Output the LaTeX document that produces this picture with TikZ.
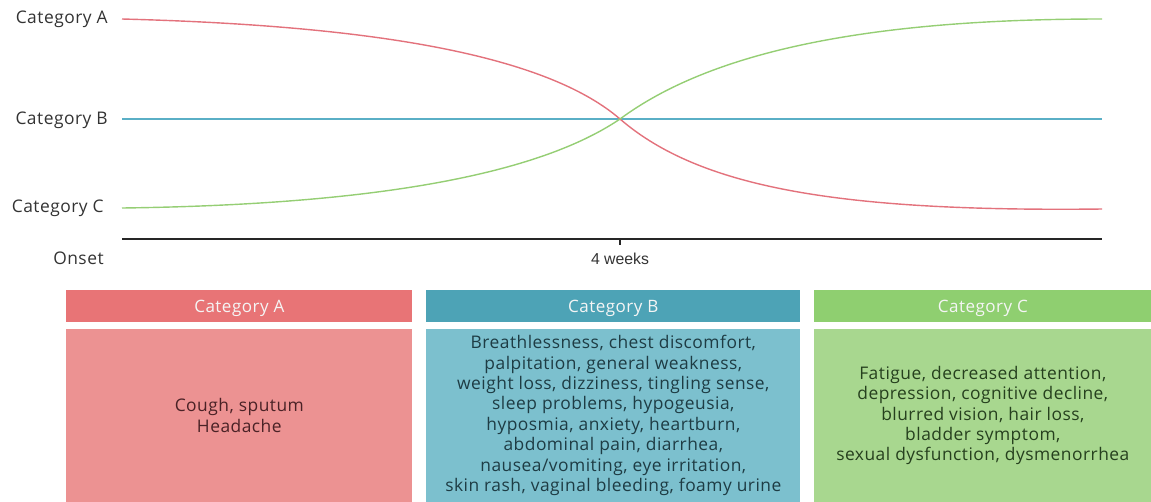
\documentclass[tikz,border=0pt]{standalone}
\usepackage{fontspec}
\setmainfont{Open Sans}[LetterSpace=2.8]
\newfontfamily\tickfont{Liberation Sans}
\usepackage{tikz}
\usetikzlibrary{positioning}
\definecolor{lineA}{HTML}{E3727C}
\definecolor{lineB}{HTML}{5AAFC6}
\definecolor{lineC}{HTML}{95CE74}
\definecolor{hdrA}{HTML}{E87476}
\definecolor{hdrB}{HTML}{4DA3B6}
\definecolor{hdrC}{HTML}{8FCF70}
\definecolor{bodyA}{HTML}{EC9292}
\definecolor{bodyB}{HTML}{7CC0CE}
\definecolor{bodyC}{HTML}{A8D78F}
\definecolor{txtA}{HTML}{4A2226}
\definecolor{txtB}{HTML}{1E3C44}
\definecolor{txtC}{HTML}{26401E}
\definecolor{lbl}{HTML}{333333}
\newcommand\bodyfont{\fontsize{9.9}{11.6}\selectfont\setlength{\lineskiplimit}{-20pt}}
\tikzset{
  catlabel/.style={text=lbl, font=\fontsize{9.9}{10}\selectfont, inner sep=0pt},
  hdr/.style={minimum height=0.64cm, inner sep=0pt, text depth=0pt, text=white!96!black, font=\fontsize{9.7}{10}\selectfont},
  bodybox/.style={minimum height=3.46cm, inner sep=0pt, align=center, font=\bodyfont},
  curve/.style={line width=0.8pt}
}
\begin{document}
\begin{tikzpicture}[x=0.02cm,y=-0.02cm]
\useasboundingbox (0,0) rectangle (1151,501);
\node[catlabel, anchor=base east] (la) at (108,23.5) {Category A};
\node[catlabel, anchor=base east] (lb) at (108,124) {Category B};
\node[catlabel, anchor=base east] (lc) at (104,212) {Category C};
\node[catlabel, anchor=base east] (onset) at (104,264) {Onset};
\coordinate (a0) at (122,19);
\coordinate (a1) at (1102,209);
\coordinate (b0) at (122,119);
\coordinate (b1) at (1102,119);
\coordinate (c0) at (122,208);
\coordinate (c1) at (1102,19);
\coordinate (mid) at (620,119);
\coordinate (ax0) at (122,239);
\coordinate (ax1) at (1102,239);
\coordinate (tick) at (620,239);
\draw[curve, lineB] (b0) -- (b1);
\draw[curve, lineA] (a0) .. controls (350,25) and (540,50) .. (mid) .. controls (700,188) and (840,212) .. (a1);
\draw[curve, lineC] (c0) .. controls (350,205) and (530,180) .. (mid) .. controls (700,60) and (840,19) .. (c1);
\draw[black!85, line width=0.6pt] (ax0) -- (ax1);
\draw[black!85, line width=0.6pt] (tick) -- ++(0,6);
\node[anchor=base, inner sep=0pt, text=lbl, font=\tickfont\fontsize{9}{10}\selectfont] (wk) at (620,264) {4 weeks};
\node[hdr, fill=hdrA, minimum width=6.92cm, anchor=north west] (ha) at (66,290) {Category A};
\node[hdr, fill=hdrB, minimum width=7.48cm, anchor=north west] (hb) at (426,290) {Category B};
\node[hdr, fill=hdrC, minimum width=6.74cm, anchor=north west] (hc) at (814,290) {Category C};
\node[bodybox, fill=bodyA, text=txtA, minimum width=6.92cm, below=0.12cm of ha] (ba) {Cough, sputum\\Headache};
\node[bodybox, fill=bodyB, text=txtB, minimum width=7.48cm, below=0.12cm of hb] (bb) {Breathlessness, chest discomfort,\\palpitation, general weakness,\\weight loss, dizziness, tingling sense,\\sleep problems, hypogeusia,\\hyposmia, anxiety, heartburn,\\abdominal pain, diarrhea,\\nausea/vomiting, eye irritation,\\skin rash, vaginal bleeding, foamy urine};
\node[bodybox, fill=bodyC, text=txtC, minimum width=6.74cm, below=0.12cm of hc] (bc) {Fatigue, decreased attention,\\depression, cognitive decline,\\blurred vision, hair loss,\\bladder symptom,\\sexual dysfunction, dysmenorrhea};
\end{tikzpicture}
\end{document}
